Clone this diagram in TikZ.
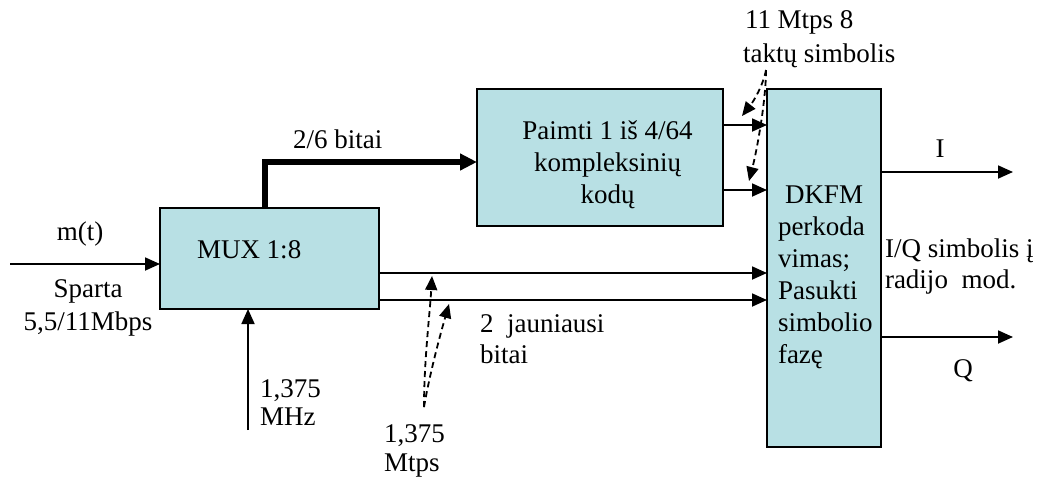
\documentclass[tikz,border=0pt]{standalone}
\usepackage{fontspec}
\setmainfont{Liberation Serif}
\usetikzlibrary{arrows.meta}
\definecolor{boxfill}{RGB}{184,224,228}
\tikzset{
  box/.style={draw=black, line width=1.8pt, fill=boxfill, inner sep=0pt, outer sep=0pt},
  lbl/.style={font=\fontsize{27}{32}\selectfont, inner sep=0pt, outer sep=0pt},
  arr/.style={line width=1.8pt, -{Triangle[length=15pt,width=13pt]}},
  thickarr/.style={line width=6.5pt, -{Triangle[length=17pt,width=16pt]}},
  dasharr/.style={line width=1.8pt, dash pattern=on 6pt off 4pt, -{Triangle[length=14pt,width=12pt]}},
}
\begin{document}
\begin{tikzpicture}[x=1pt,y=-1pt]
\useasboundingbox (0,0) rectangle (1041,477);

% blocks
\node[box, minimum width=219pt, minimum height=101pt] (mux) at (269.5,258.5) {};
\node[box, minimum width=246pt, minimum height=137pt] (paimti) at (600,157.5) {};
\node[box, minimum width=114pt, minimum height=358pt] (dkfm) at (824,268) {};

% block texts
\node[lbl, anchor=base west] (muxt) at (197,258) {MUX 1:8};
\node[lbl, anchor=base] (pa1) at (607.5,139) {Paimti 1 iš 4/64};
\node[lbl, anchor=base] (pa2) at (607.5,171) {kompleksinių};
\node[lbl, anchor=base] (pa3) at (607.5,203) {kodų};
\node[lbl, anchor=base west] (dk1) at (785,203) {DKFM};
\node[lbl, anchor=base west] (dk2) at (778,235) {perkoda};
\node[lbl, anchor=base west] (dk3) at (778,267) {vimas;};
\node[lbl, anchor=base west] (dk4) at (778,299) {Pasukti};
\node[lbl, anchor=base west] (dk5) at (778,331) {simbolio};
\node[lbl, anchor=base west] (dk6) at (778,363) {fazę};

% input
\coordinate (in) at (10,264);
\draw[arr] (in) -- (in -| mux.west);
\node[lbl, anchor=base] (mt) at (80,240) {m(t)};
\node[lbl, anchor=base] (sp1) at (88,297) {Sparta};
\node[lbl, anchor=base] (sp2) at (88,330) {5,5/11Mbps};

% clock into the multiplexer
\coordinate (clk) at (248,430);
\draw[arr] (clk) -- (clk |- mux.south);
\node[lbl, anchor=base west] (ck1) at (260,397) {1,375};
\node[lbl, anchor=base west] (ck2) at (260,425) {MHz};

% selection bits
\draw[thickarr] ([xshift=105pt]mux.north west) |- ([yshift=-4.5pt]paimti.west);
\node[lbl, anchor=base west] (sel) at (293,148) {2/6 bitai};

% code outputs into DKFM
\draw[arr] ([yshift=32.5pt]paimti.east) coordinate (c1) -- (c1 -| dkfm.west);
\draw[arr] ([yshift=-32.5pt]paimti.east) coordinate (c2) -- (c2 -| dkfm.west);

% two least significant bits
\draw[arr] ([yshift=-14.5pt]mux.east) coordinate (b1) -- (b1 -| dkfm.west);
\draw[arr] ([yshift=-41.5pt]mux.east) coordinate (b2) -- (b2 -| dkfm.west);
\node[lbl, anchor=base west] (jb1) at (480,332) {2\ \ jauniausi};
\node[lbl, anchor=base west] (jb2) at (480,363) {bitai};

% symbol clock
\coordinate (tk) at (766,70);
\coordinate (tkA) at (742,116);
\coordinate (tkB) at (749,181);
\draw[dasharr] (tk) .. controls (763,86) and (753,102) .. (tkA);
\draw[dasharr] (tk) .. controls (766,100) and (757,150) .. (tkB);
\node[lbl, anchor=base west] (tt1) at (745,28) {11 Mtps 8};
\node[lbl, anchor=base west] (tt2) at (743,62) {taktų simbolis};

% bit clock
\coordinate (bk) at (424,407);
\coordinate (bkA) at (432,276);
\coordinate (bkB) at (449,304);
\draw[dasharr] (bk) .. controls (424,360) and (430,312) .. (bkA);
\draw[dasharr] (bk) .. controls (430,372) and (441,332) .. (bkB);
\node[lbl, anchor=base west] (bt1) at (384,442) {1,375};
\node[lbl, anchor=base west] (bt2) at (384,471) {Mtps};

% I and Q outputs
\coordinate (iout) at (1013,172);
\coordinate (qout) at (1013,337);
\draw[arr] (iout -| dkfm.east) -- (iout);
\draw[arr] (qout -| dkfm.east) -- (qout);
\node[lbl, anchor=base] (il) at (940,157) {I};
\node[lbl, anchor=base] (ql) at (963,377) {Q};
\node[lbl, anchor=base west] (iq1) at (885,257) {I/Q simbolis į};
\node[lbl, anchor=base west] (iq2) at (885,288) {radijo\ \ mod.};
\end{tikzpicture}
\end{document}
